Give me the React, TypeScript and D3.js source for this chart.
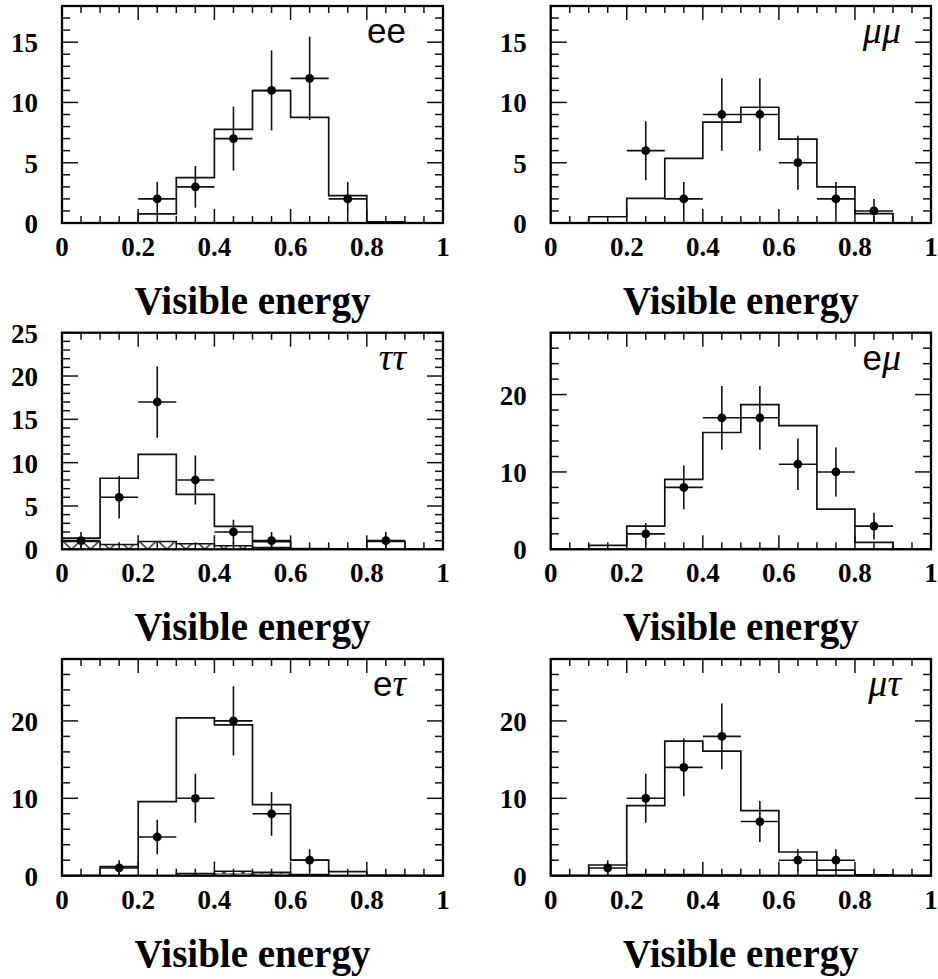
import React from "react";
import * as d3 from "d3";

// ---- data ----
const BIN_LO = [0, 0.1, 0.2, 0.3, 0.4, 0.5, 0.6, 0.7, 0.8, 0.9];

const eeMC = [0, 0, 0.75, 3.76, 7.76, 10.97, 8.76, 2.27, 0.1, 0];
const eeX = [0.25, 0.35, 0.45, 0.55, 0.65, 0.75];
const eeY = [2, 3, 7, 11, 12, 2];
const eeErr = [1.41, 1.73, 2.65, 3.32, 3.46, 1.41];

const mmMC = [0, 0.52, 2.04, 5.36, 8.37, 9.6, 6.96, 3.0, 0.77, 0];
const mmX = [0.25, 0.35, 0.45, 0.55, 0.65, 0.75, 0.85];
const mmY = [6, 2, 9, 9, 5, 2, 1];
const mmErr = [2.45, 1.41, 3, 3, 2.24, 1.41, 1];

const ttMC = [1.3, 8.2, 10.96, 6.35, 2.65, 0.88, 0.08, 0.05, 0.92, 0];
const ttBG = [0.9, 0.55, 0.9, 0.65, 0.4, 0.2, 0, 0, 0, 0];
const ttX = [0.05, 0.15, 0.25, 0.35, 0.45, 0.55, 0.85];
const ttY = [1, 6, 17, 8, 2, 1, 1];
const ttErr = [1, 2.45, 4.12, 2.83, 1.41, 1, 1];

const emMC = [0, 0.5, 3.0, 9.05, 15.1, 18.7, 16.0, 5.2, 0.9, 0];
const emBG = [0, 0, 0, 0, 0, 0.1, 0, 0, 0, 0];
const emX = [0.25, 0.35, 0.45, 0.55, 0.65, 0.75, 0.85];
const emY = [2, 8, 17, 17, 11, 10, 3];
const emErr = [1.41, 2.83, 4.12, 4.12, 3.32, 3.16, 1.73];

const etMC = [0, 1.16, 9.57, 20.4, 19.5, 9.18, 2.03, 0.52, 0.05, 0];
const etBG = [0, 0, 0, 0.3, 0.56, 0.43, 0.17, 0, 0, 0];
const etX = [0.15, 0.25, 0.35, 0.45, 0.55, 0.65];
const etY = [1, 5, 10, 20, 8, 2];
const etErr = [1, 2.24, 3.16, 4.47, 2.83, 1.41];

const mtMC = [0, 1.38, 9.05, 17.4, 16.1, 8.4, 3.06, 0.73, 0.1, 0];
const mtBG = [0, 0, 0.17, 0.15, 0.1, 0, 0, 0, 0, 0];
const mtX = [0.15, 0.25, 0.35, 0.45, 0.55, 0.65, 0.75];
const mtY = [1, 10, 14, 18, 7, 2, 2];
const mtErr = [1, 3.16, 3.74, 4.24, 2.65, 1.41, 1.41];

const X_TICKS = [0, 0.2, 0.4, 0.6, 0.8, 1];
const X_TICK_LABELS = ["0", "0.2", "0.4", "0.6", "0.8", "1"];
const Y_TICKS_18 = [0, 5, 10, 15];
const Y_TICKS_25 = [0, 5, 10, 15, 20, 25];
const Y_TICKS_28 = [0, 10, 20];
const TITLE = "Visible energy";

// ---- layout ----
const COL_X = [[62, 443], [550.7, 931]];
const ROW_Y = [[6, 223], [332.7, 549.3], [659, 875.7]];

type Panel = {
  col: number; row: number; yMax: number; yTicks: number[]; yMinor: number;
  mc: number[]; bg?: number[]; px: number[]; py: number[]; perr: number[];
  label: { t: string; greek: boolean }[];
};

const panels: Panel[] = [
  { col: 0, row: 0, yMax: 18, yTicks: Y_TICKS_18, yMinor: 1, mc: eeMC, px: eeX, py: eeY, perr: eeErr,
    label: [{ t: "ee", greek: false }] },
  { col: 1, row: 0, yMax: 18, yTicks: Y_TICKS_18, yMinor: 1, mc: mmMC, px: mmX, py: mmY, perr: mmErr,
    label: [{ t: "μμ", greek: true }] },
  { col: 0, row: 1, yMax: 25, yTicks: Y_TICKS_25, yMinor: 1, mc: ttMC, bg: ttBG, px: ttX, py: ttY, perr: ttErr,
    label: [{ t: "ττ", greek: true }] },
  { col: 1, row: 1, yMax: 28, yTicks: Y_TICKS_28, yMinor: 2, mc: emMC, bg: emBG, px: emX, py: emY, perr: emErr,
    label: [{ t: "e", greek: false }, { t: "μ", greek: true }] },
  { col: 0, row: 2, yMax: 28, yTicks: Y_TICKS_28, yMinor: 2, mc: etMC, bg: etBG, px: etX, py: etY, perr: etErr,
    label: [{ t: "e", greek: false }, { t: "τ", greek: true }] },
  { col: 1, row: 2, yMax: 28, yTicks: Y_TICKS_28, yMinor: 2, mc: mtMC, bg: mtBG, px: mtX, py: mtY, perr: mtErr,
    label: [{ t: "μ", greek: true }, { t: "τ", greek: true }] },
];

const INK = "#111";
const SERIF = "'Liberation Serif', 'Times New Roman', serif";
const SANS = "'Liberation Sans', Arial, sans-serif";

function stepPath(x: d3.ScaleLinear<number, number>, y: d3.ScaleLinear<number, number>, vals: number[]) {
  const pts: [number, number][] = [[0, 0]];
  BIN_LO.forEach((lo, i) => pts.push([lo, vals[i]]));
  pts.push([1, 0]);
  const line = d3.line<[number, number]>().x((d) => x(d[0])).y((d) => y(d[1])).curve(d3.curveStepAfter);
  return line(pts) || "";
}

function PanelView({ p, idx }: { p: Panel; idx: number }) {
  const [x0, x1] = COL_X[p.col];
  const [y0, y1] = ROW_Y[p.row];
  const x = d3.scaleLinear().domain([0, 1]).range([x0, x1]);
  const y = d3.scaleLinear().domain([0, p.yMax]).range([y1, y0]);
  const xMinor = d3.range(0, 1.0001, 0.05);
  const yMinor = d3.range(0, p.yMax + 0.001, p.yMinor);
  const clipId = `clip${idx}`;
  const bgPath = p.bg ? stepPath(x, y, p.bg) : null;
  return (
    <g>
      <defs>
        <clipPath id={clipId}>
          <rect x={x0} y={y0} width={x1 - x0} height={y1 - y0} />
        </clipPath>
      </defs>
      <g clipPath={`url(#${clipId})`}>
        {bgPath && (
          <path d={bgPath} fill="url(#hatch)" stroke={INK} strokeWidth={1.5} />
        )}
        <path d={stepPath(x, y, p.mc)} fill="none" stroke={INK} strokeWidth={1.7} />
        {p.px.map((v, i) => (
          <g key={i} stroke={INK} strokeWidth={1.6}>
            <line x1={x(v - 0.05)} x2={x(v + 0.05)} y1={y(p.py[i])} y2={y(p.py[i])} />
            <line x1={x(v)} x2={x(v)} y1={y(Math.max(0, p.py[i] - p.perr[i]))} y2={y(p.py[i] + p.perr[i])} />
            <circle cx={x(v)} cy={y(p.py[i])} r={4.4} fill="#000" stroke="none" />
          </g>
        ))}
      </g>
      {/* ticks */}
      <g stroke={INK} strokeWidth={1.5}>
        {xMinor.map((t, i) => {
          const major = Math.abs(t / 0.2 - Math.round(t / 0.2)) < 1e-6;
          const len = major ? 14 : 7;
          return (
            <g key={"x" + i}>
              <line x1={x(t)} x2={x(t)} y1={y1} y2={y1 - len} />
              <line x1={x(t)} x2={x(t)} y1={y0} y2={y0 + len} />
            </g>
          );
        })}
        {yMinor.map((t, i) => {
          const major = p.yTicks.includes(Math.round(t * 1000) / 1000);
          const len = major ? 16 : 8;
          return (
            <g key={"y" + i}>
              <line x1={x0} x2={x0 + len} y1={y(t)} y2={y(t)} />
              <line x1={x1} x2={x1 - len} y1={y(t)} y2={y(t)} />
            </g>
          );
        })}
      </g>
      <rect x={x0} y={y0} width={x1 - x0} height={y1 - y0} fill="none" stroke="#000" strokeWidth={2.3} />
      {/* tick labels */}
      <g fontFamily={SERIF} fontWeight="bold" fontSize={27} fill="#000">
        {X_TICKS.map((t, i) => (
          <text key={"xl" + i} x={x(t)} y={y1 + 33} textAnchor="middle">{X_TICK_LABELS[i]}</text>
        ))}
        {p.yTicks.map((t, i) => (
          <text key={"yl" + i} x={x0 - 24} y={y(t) + 10} textAnchor="end">{String(t)}</text>
        ))}
      </g>
      <text x={(x0 + x1) / 2} y={y1 + 91} textAnchor="middle" fontFamily={SERIF} fontWeight="bold" fontSize={39} fill="#000">
        {TITLE}
      </text>
      <text x={x1 - (p.col === 0 ? 37 : 30)} y={y0 + 37} textAnchor="end" fill="#000">
        {p.label.map((l, i) => (
          <tspan key={i} fontFamily={l.greek ? SERIF : SANS} fontStyle={l.greek ? "italic" : "normal"} fontSize={l.greek ? 38 : 35}>
            {l.t}
          </tspan>
        ))}
      </text>
    </g>
  );
}

export default function App() {
  return (
    <svg width={938} height={979} style={{ position: "absolute", left: 0, top: 0, background: "#fff" }}>
      <defs>
        <pattern id="hatch" patternUnits="userSpaceOnUse" width={19.05} height={9} x={62} y={549.3}>
          <line x1={0} y1={0} x2={9.5} y2={9} stroke={INK} strokeWidth={1.3} />
          <line x1={19.05} y1={0} x2={9.5} y2={9} stroke={INK} strokeWidth={1.3} />
          <line x1={0} y1={0} x2={19.05} y2={0} stroke={INK} strokeWidth={1.3} />
        </pattern>
      </defs>
      <rect width={938} height={979} fill="#fff" />
      {panels.map((p, i) => (
        <PanelView key={i} p={p} idx={i} />
      ))}
    </svg>
  );
}
